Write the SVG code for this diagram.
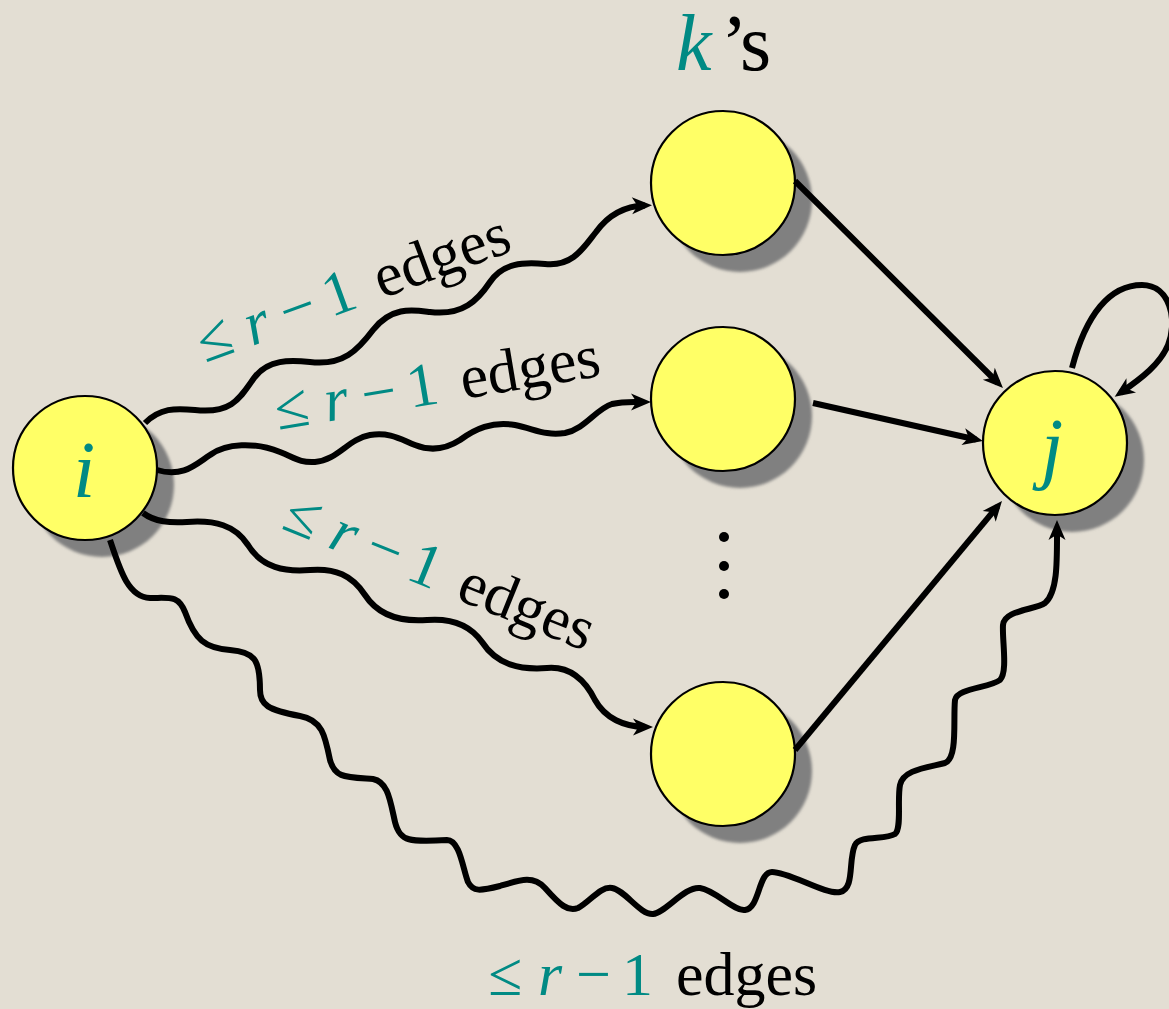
<svg xmlns="http://www.w3.org/2000/svg" width="1169" height="1009" viewBox="0 0 1169 1009">
  <defs>
    <filter id="soft" x="-20%" y="-20%" width="140%" height="140%">
      <feGaussianBlur stdDeviation="1.5"/>
    </filter>
    <marker id="head" markerUnits="userSpaceOnUse" orient="auto" overflow="visible" markerWidth="1" markerHeight="1" refX="0" refY="0">
      <path d="M7,0 L-13,-8.5 L-7.5,0 L-13,8.5 Z" fill="#000"/>
    </marker>
  </defs>

  <rect width="1169" height="1009" fill="#E3DED3"/>

  <!-- nodes: soft grey shadow, then the yellow disc -->
  <g id="node-i">
    <circle cx="102" cy="485" r="72" fill="#808080" filter="url(#soft)"/>
    <circle cx="85" cy="468" r="72" fill="#FFFF66" stroke="#000" stroke-width="2.2"/>
    <text x="84" y="497" font-family="'Liberation Serif', serif" font-style="italic" font-size="80" fill="#008A84" text-anchor="middle">i</text>
  </g>
  <g id="node-k1">
    <circle cx="740" cy="200" r="72" fill="#808080" filter="url(#soft)"/>
    <circle cx="723" cy="183" r="72" fill="#FFFF66" stroke="#000" stroke-width="2.2"/>
  </g>
  <g id="node-k2">
    <circle cx="740" cy="416" r="72" fill="#808080" filter="url(#soft)"/>
    <circle cx="723" cy="399" r="72" fill="#FFFF66" stroke="#000" stroke-width="2.2"/>
  </g>
  <g id="node-k3">
    <circle cx="740" cy="771" r="72" fill="#808080" filter="url(#soft)"/>
    <circle cx="723" cy="754" r="72" fill="#FFFF66" stroke="#000" stroke-width="2.2"/>
  </g>
  <g id="node-j">
    <circle cx="1072" cy="460" r="72" fill="#808080" filter="url(#soft)"/>
    <circle cx="1055" cy="443" r="72" fill="#FFFF66" stroke="#000" stroke-width="2.2"/>
    <text x="1052" y="474" font-family="'Liberation Serif', serif" font-style="italic" font-size="80" fill="#008A84" text-anchor="middle">j</text>
  </g>

  <!-- vertical ellipsis between the k nodes -->
  <g id="ellipsis" fill="#000">
    <circle cx="724" cy="537" r="5"/>
    <circle cx="724" cy="566" r="5"/>
    <circle cx="724" cy="594" r="5"/>
  </g>

  <!-- connectors -->
  <g id="connectors" fill="none" stroke="#000" stroke-width="6" marker-end="url(#head)">
    <!-- i to upper k -->
    <path d="M145,423 C160,408 175,408 195,410 C232,414 240,398 254,378 C268,359 290,360 310,362 C343,366 358,350 373,330 C392,306 413,310 430,312 C463,316 478,300 490,282 C503,263 523,262 545,264 C573,267 584,247 596,232 C609,214 626,206 645,205.5"/>
    <!-- i to middle k -->
    <path d="M157,470 C183,478 196,464 210,455 C226,443 255,442 280,452 C295,458 300,463 315,462 C338,460 348,439 370,435 C390,432 400,439 415,445 C430,451 446,449 460,440 C475,429 492,421 515,425 C535,429 545,436 565,433 C585,429 596,409 612,404 C624,401 636,402 644,402"/>
    <!-- i to lower k -->
    <path d="M143,513 C155,522 170,523 187,522 C215,520 235,525 248,545 C262,568 285,572 310,570 C335,568 352,575 365,595 C378,615 400,622 427,620 C452,618 470,625 482,642 C497,665 520,670 547,668 C570,666 585,680 595,700 C605,718 624,727 646,727"/>
    <!-- i to j, long way round -->
    <path d="M110,540 C120,570 128,597 150,598 C170,598 178,595 185,612 C195,640 205,648 230,650 C255,652 260,660 260,690 C260,705 268,710 300,716 C322,720 325,735 330,760 C335,778 345,777 373,779 C388,782 390,800 395,822 C400,842 410,842 447,840 C460,840 463,870 468,882 C473,892 480,891 500,886 C520,880 533,875 545,888 C560,905 568,912 578,908 C590,902 600,886 612,888 C625,890 640,915 653,914 C665,913 685,886 700,888 C715,890 735,912 745,910 C760,908 758,872 772,872 C790,872 825,895 840,892 C855,889 848,860 855,845 C860,835 885,840 895,834 C902,828 897,800 900,785 C903,770 925,768 945,763 C958,758 953,720 955,700 C957,688 990,688 1000,680 C1008,672 1002,640 1003,625 C1004,610 1035,610 1045,603 C1058,592 1057,560 1057,527"/>
    <!-- k nodes to j -->
    <path d="M795,181 L998,383"/>
    <path d="M813,403 L976,439.5"/>
    <path d="M795,750 L997.5,506.4"/>
    <!-- self loop on j -->
    <path d="M1072,368 C1086,314 1110,285 1142,285 C1170,285 1178,320 1168,345 C1160,364 1142,378 1120.5,392.7"/>
  </g>

  <!-- labels -->
  <g id="labels" font-family="'Liberation Serif', serif">
    <text x="676" y="70" font-size="80"><tspan fill="#008A84" font-style="italic">k</tspan><tspan x="721">’</tspan><tspan x="740">s</tspan></text>
    <text font-size="62" transform="translate(205,363) rotate(-20)"><tspan fill="#008A84" x="0">≤</tspan><tspan fill="#008A84" font-style="italic" x="50">r</tspan><tspan fill="#008A84" x="88">−</tspan><tspan fill="#008A84" x="134">1</tspan><tspan x="188">edges</tspan></text>
    <text font-size="62" transform="translate(278,430) rotate(-9.5)"><tspan fill="#008A84" x="0">≤</tspan><tspan fill="#008A84" font-style="italic" x="50">r</tspan><tspan fill="#008A84" x="88">−</tspan><tspan fill="#008A84" x="134">1</tspan><tspan x="188">edges</tspan></text>
    <text font-size="62" transform="translate(280,528) rotate(22)"><tspan fill="#008A84" x="0">≤</tspan><tspan fill="#008A84" font-style="italic" x="50">r</tspan><tspan fill="#008A84" x="88">−</tspan><tspan fill="#008A84" x="134">1</tspan><tspan x="188">edges</tspan></text>
    <text font-size="62" transform="translate(488,995)"><tspan fill="#008A84" x="0">≤</tspan><tspan fill="#008A84" font-style="italic" x="50">r</tspan><tspan fill="#008A84" x="88">−</tspan><tspan fill="#008A84" x="134">1</tspan><tspan x="188">edges</tspan></text>
  </g>
</svg>
